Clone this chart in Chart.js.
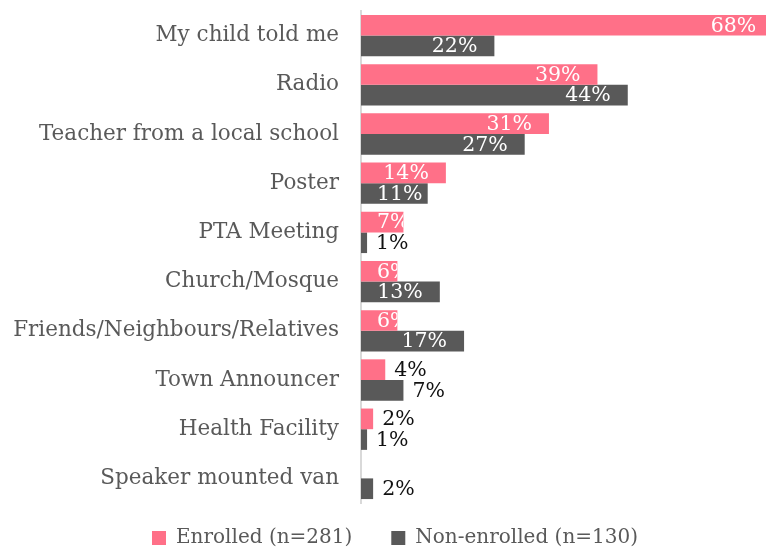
<!DOCTYPE html>
<html><head><meta charset="utf-8">
<script src="https://cdn.jsdelivr.net/npm/chart.js@4/dist/chart.umd.min.js"></script>
<style>
html,body{margin:0;padding:0;width:766px;height:548px;overflow:hidden;background:#fff}
#wrap{position:relative;width:766px;height:558px}
</style>
</head><body><div id="wrap"><canvas id="c"></canvas></div>
<script>
const categories = ['My child told me','Radio','Teacher from a local school','Poster','PTA Meeting','Church/Mosque','Friends/Neighbours/Relatives','Town Announcer','Health Facility','Speaker mounted van'];
const enrolled = [68,39,31,14,7,6,6,4,2,0];
const nonEnrolled = [22,44,27,11,1,13,17,7,1,2];
const seriesNames = ['Enrolled (n=281)','Non-enrolled (n=130)'];

const FONT = "'DejaVu Serif', serif";
const outsideCats = ['Town Announcer'];

const labelPlugin = {
  id: 'barLabels',
  afterLayout(chart) {
    if (chart.legend) { chart.legend.left += 12; chart.legend.right += 12; }
  },
  afterDatasetsDraw(chart) {
    const ctx = chart.ctx, area = chart.chartArea;
    ctx.save();
    ctx.font = '20.5px ' + FONT;
    ctx.textBaseline = 'middle';
    ctx.textAlign = 'left';
    chart.data.datasets.forEach((ds, di) => {
      const meta = chart.getDatasetMeta(di);
      meta.data.forEach((bar, i) => {
        const v = ds.data[i];
        if (!v) return;
        const txt = v + '%';
        const w = ctx.measureText(txt).width;
        const outside = v < 5 || outsideCats.includes(chart.data.labels[i]);
        const base = bar.base, end = bar.x, y = bar.y + 1;
        if (outside) {
          ctx.fillStyle = '#111';
          ctx.fillText(txt, end + 9, y);
        } else {
          const x = Math.max(end - 17 - w, base + 16);
          ctx.save();
          ctx.beginPath();
          ctx.rect(base, area.top, Math.min(end, area.right) - base, area.bottom - area.top);
          ctx.clip();
          ctx.fillStyle = '#fff';
          ctx.fillText(txt, x, y);
          ctx.restore();
        }
      });
    });
    ctx.restore();
  }
};

new Chart(document.getElementById('c'), {
  type: 'bar',
  data: {
    labels: categories,
    datasets: [
      { label: seriesNames[0], data: enrolled, backgroundColor: '#FF7088', borderWidth: 0 },
      { label: seriesNames[1], data: nonEnrolled, backgroundColor: '#595959', borderWidth: 0 }
    ]
  },
  options: {
    indexAxis: 'y',
    responsive: true,
    maintainAspectRatio: false,
    devicePixelRatio: 1,
    animation: false,
    categoryPercentage: 0.84,
    barPercentage: 1,
    layout: { padding: { top: 11, left: 0, right: 0, bottom: 0 } },
    scales: {
      x: { display: false, min: 0, max: 66.8 },
      y: {
        grid: { display: false, drawTicks: false },
        border: { display: true, color: '#d9d9d9', width: 2 },
        ticks: { color: '#595959', font: { family: FONT, size: 21.5 }, padding: 22 },
        afterFit(s) { s.width = 361; s.paddingTop = 0; s.paddingBottom = 0; }
      }
    },
    plugins: {
      tooltip: { enabled: false },
      legend: {
        position: 'bottom',
        labels: {
          color: '#595959',
          font: { family: FONT, size: 20 },
          boxWidth: 14,
          boxHeight: 14,
          padding: 25,
          generateLabels(chart) {
            const items = Chart.defaults.plugins.legend.labels.generateLabels(chart);
            items[0].text += '\u2002\u2009';
            return items;
          }
        }
      }
    }
  },
  plugins: [labelPlugin]
});
</script>
</body></html>
